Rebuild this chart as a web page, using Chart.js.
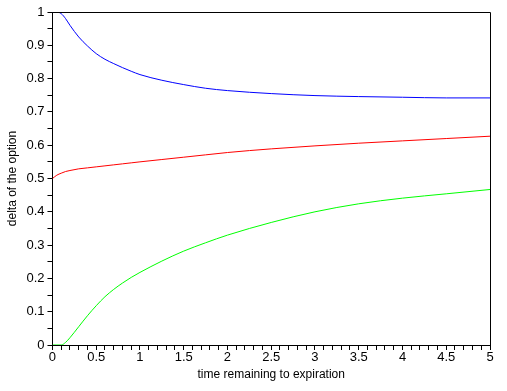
<!DOCTYPE html>
<html>
<head>
<meta charset="utf-8">
<script src="https://cdn.jsdelivr.net/npm/chart.js@4/dist/chart.umd.min.js"></script>
<style>
  html, body { margin: 0; padding: 0; background: #fff; }
  canvas { display: block; }
</style>
</head>
<body>
<canvas id="chart" width="507" height="391"></canvas>
<script>
// time remaining to expiration (x)
const timeLeft = [0, 0.05, 0.1, 0.15, 0.2, 0.3, 0.4, 0.5, 0.6, 0.7, 0.8, 0.9, 1,
  1.25, 1.5, 1.75, 2, 2.5, 3, 3.5, 4, 4.5, 5];

// delta curves
const deltaBlue = [1, 1, 0.995, 0.98, 0.96, 0.925, 0.898, 0.875, 0.858, 0.845, 0.833, 0.822, 0.812,
  0.795, 0.782, 0.771, 0.764, 0.755, 0.749, 0.746, 0.744, 0.742, 0.742];
const deltaRed = [0.5, 0.51, 0.516, 0.521, 0.524, 0.529, 0.532, 0.535, 0.538, 0.541, 0.544, 0.547, 0.55,
  0.557, 0.564, 0.571, 0.578, 0.589, 0.598, 0.606, 0.613, 0.62, 0.627];
const deltaGreen = [0, 0, 0, 0.008, 0.022, 0.055, 0.088, 0.118, 0.145, 0.167, 0.186, 0.203, 0.218,
  0.252, 0.282, 0.307, 0.33, 0.368, 0.4, 0.424, 0.441, 0.454, 0.467];

const xMajor = [0, 0.5, 1, 1.5, 2, 2.5, 3, 3.5, 4, 4.5, 5];
const yMajor = [0, 0.1, 0.2, 0.3, 0.4, 0.5, 0.6, 0.7, 0.8, 0.9, 1];

const toPoints = (ys) => ys.map((y, i) => ({ x: timeLeft[i], y }));
const isMajor = (list, v) => list.some((m) => Math.abs(m - v) < 1e-6);

// closes the box on top and right
const frame = {
  id: "frame",
  afterDraw(chart) {
    const { ctx, chartArea: a } = chart;
    ctx.save();
    ctx.strokeStyle = "#000";
    ctx.lineWidth = 1;
    ctx.beginPath();
    ctx.moveTo(a.left, a.top + 0.5);
    ctx.lineTo(a.right + 0.5, a.top + 0.5);
    ctx.lineTo(a.right + 0.5, a.bottom);
    ctx.stroke();
    ctx.restore();
  },
};

const line = (data, color) => ({
  data: toPoints(data),
  borderColor: color,
  borderWidth: 1,
  pointRadius: 0,
  cubicInterpolationMode: "monotone",
  fill: false,
});

new Chart(document.getElementById("chart"), {
  type: "line",
  data: {
    datasets: [line(deltaBlue, "#0000ff"), line(deltaRed, "#ff0000"), line(deltaGreen, "#00ff00")],
  },
  options: {
    responsive: false,
    animation: false,
    layout: { padding: { top: 12, right: 17, left: 5, bottom: 9 } },
    plugins: { legend: { display: false }, tooltip: { enabled: false } },
    scales: {
      x: {
        type: "linear",
        min: 0,
        max: 5,
        grid: { drawOnChartArea: false, color: "#000", tickLength: 5 },
        border: { color: "#000", width: 1 },
        ticks: {
          stepSize: 0.1,
          autoSkip: false,
          maxRotation: 0,
          padding: 0,
          color: "#000",
          font: { family: "Liberation Sans, Arial", size: 13 },
          callback: (v) => (isMajor(xMajor, v) ? String(Math.round(v * 10) / 10) : ""),
        },
        title: {
          display: true,
          text: "time remaining to expiration",
          color: "#000",
          font: { family: "Liberation Sans, Arial", size: 12 },
          padding: { top: 2, bottom: 0 },
        },
      },
      y: {
        min: 0,
        max: 1,
        grid: { drawOnChartArea: false, color: "#000", tickLength: 5 },
        border: { color: "#000", width: 1 },
        ticks: {
          stepSize: 0.05,
          autoSkip: false,
          padding: 3,
          color: "#000",
          font: { family: "Liberation Sans, Arial", size: 13 },
          callback: (v) => (isMajor(yMajor, v) ? String(Math.round(v * 10) / 10) : ""),
        },
        title: {
          display: true,
          text: "delta of the option",
          color: "#000",
          font: { family: "Liberation Sans, Arial", size: 12 },
          padding: { top: 0, bottom: 4 },
        },
      },
    },
  },
  plugins: [frame],
});
</script>
</body>
</html>
